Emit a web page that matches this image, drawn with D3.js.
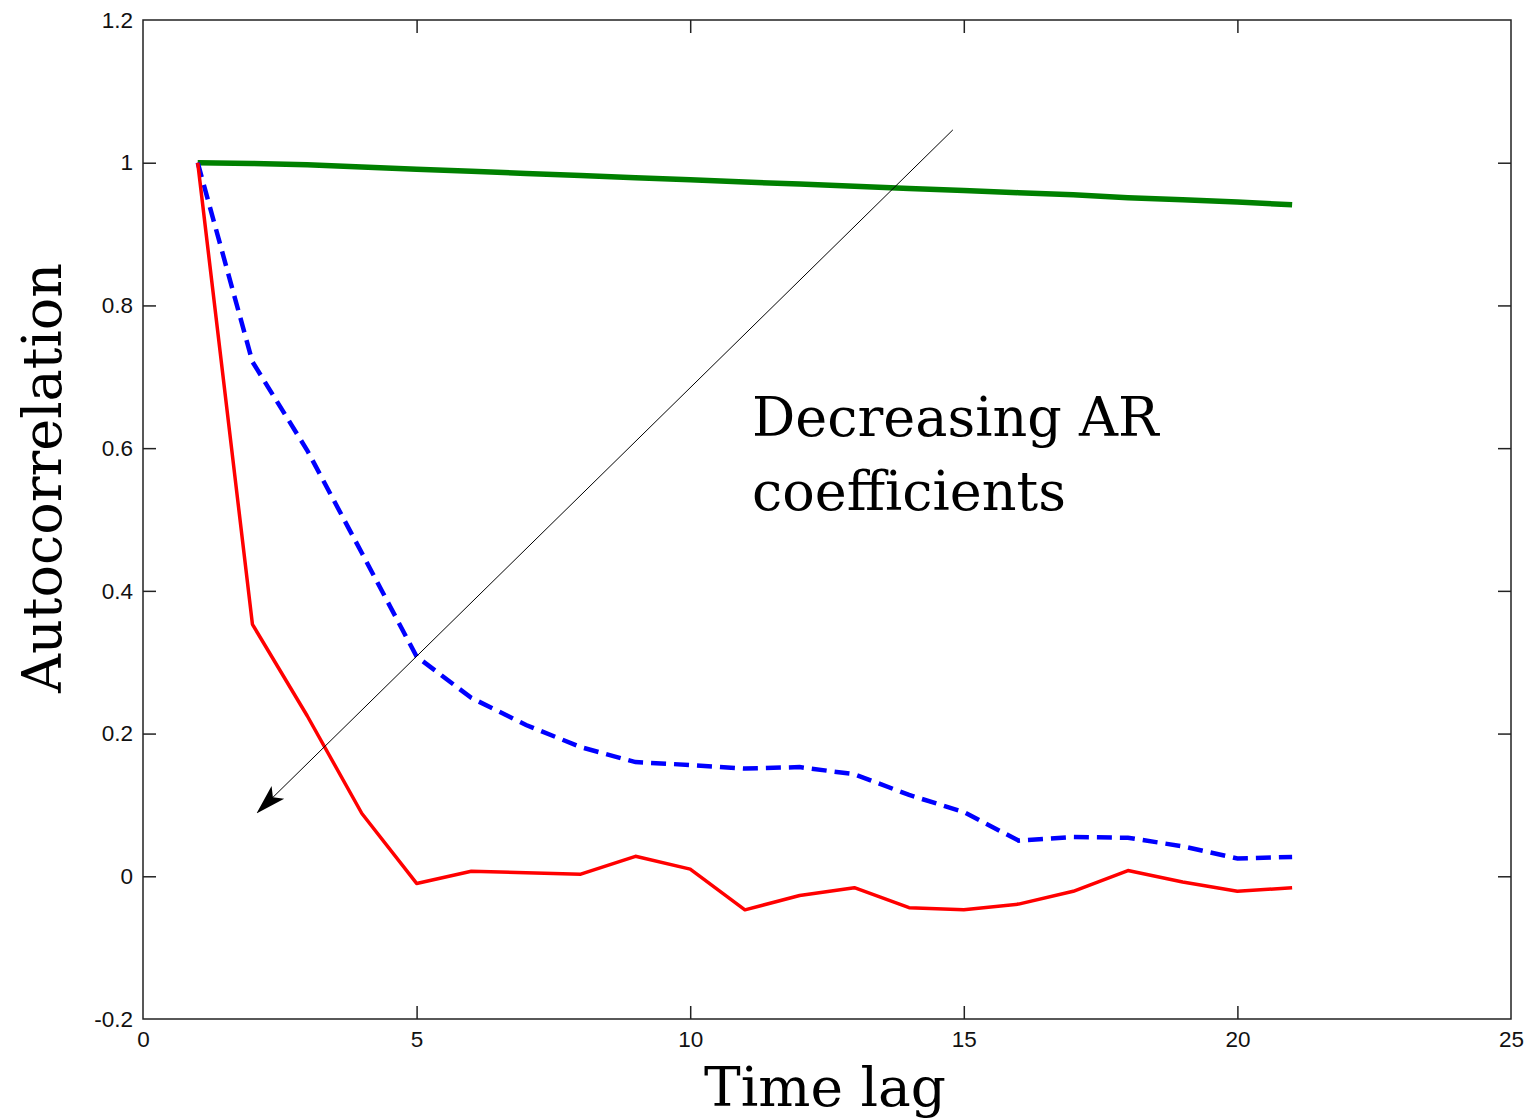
<!DOCTYPE html>
<html><head><meta charset="utf-8">
<script src="https://cdn.jsdelivr.net/npm/d3@7"></script>
<style>body{margin:0;background:#fff;} svg{display:block;}</style>
</head><body>
<svg id="chart" width="1535" height="1120"></svg>
<script>
const lags = [1,2,3,4,5,6,7,8,9,10,11,12,13,14,15,16,17,18,19,20,21];
const greenSeries = [1.0,0.999,0.997,0.994,0.991,0.988,0.985,0.982,0.979,0.976,0.973,0.970,0.967,0.964,0.961,0.958,0.955,0.951,0.948,0.945,0.941];
const blueSeries = [1.0,0.721,0.597,0.453,0.308,0.250,0.212,0.181,0.160,0.156,0.151,0.153,0.143,0.114,0.090,0.050,0.055,0.054,0.042,0.025,0.027];
const redSeries = [1.0,0.353,0.225,0.088,-0.010,0.007,0.005,0.003,0.028,0.010,-0.047,-0.027,-0.016,-0.044,-0.047,-0.039,-0.021,0.008,-0.008,-0.021,-0.016];
const xTicks = [0,5,10,15,20,25];
const yTicks = [-0.2,0,0.2,0.4,0.6,0.8,1,1.2];
const arrowFrom = [14.8,1.046];
const arrowTo = [2.1,0.09];
const annotationLines = ["Decreasing AR","coefficients"];

const svg = d3.select("#chart");
const L=143, R=1511, T=20, B=1019;
const x = d3.scaleLinear().domain([0,25]).range([L,R]);
const y = d3.scaleLinear().domain([-0.2,1.2]).range([B,T]);
const fmt = d => String(+d.toFixed(1));

svg.append("rect").attr("x",L).attr("y",T).attr("width",R-L).attr("height",B-T)
  .attr("fill","none").attr("stroke","#222").attr("stroke-width",1.5);

const tickFont = "Liberation Sans, Arial, sans-serif";
const gb = svg.append("g").attr("transform",`translate(0,${B})`)
  .call(d3.axisBottom(x).tickValues(xTicks).tickSizeInner(-13).tickSizeOuter(0).tickPadding(9).tickFormat(d=>d));
const gt = svg.append("g").attr("transform",`translate(0,${T})`)
  .call(d3.axisTop(x).tickValues(xTicks).tickSizeInner(-13).tickSizeOuter(0).tickFormat(""));
const gl = svg.append("g").attr("transform",`translate(${L},0)`)
  .call(d3.axisLeft(y).tickValues(yTicks).tickSizeInner(-13).tickSizeOuter(0).tickPadding(10).tickFormat(fmt));
const gr = svg.append("g").attr("transform",`translate(${R},0)`)
  .call(d3.axisRight(y).tickValues(yTicks).tickSizeInner(-13).tickSizeOuter(0).tickFormat(""));
[gb,gt,gl,gr].forEach(g=>{
  g.select(".domain").remove();
  g.selectAll("line").attr("stroke","#222").attr("stroke-width",1.5);
  g.selectAll("text").attr("font-family",tickFont).attr("font-size",22.5).attr("fill","#111");
});
const isEdge = d => Math.abs(d-0)<1e-9||Math.abs(d-25)<1e-9;
const isEdgeY = d => Math.abs(d-1.2)<1e-9||Math.abs(d+0.2)<1e-9;
gb.selectAll(".tick").filter(isEdge).selectAll("line").remove();
gt.selectAll(".tick").filter(isEdge).selectAll("line").remove();
gl.selectAll(".tick").filter(isEdgeY).selectAll("line").remove();
gr.selectAll(".tick").filter(isEdgeY).selectAll("line").remove();
gb.selectAll("text").attr("dy","0.85em");

const line = d3.line().x((d,i)=>x(lags[i])).y(d=>y(d));
svg.append("path").datum(greenSeries).attr("d",line).attr("fill","none")
  .attr("stroke","#008000").attr("stroke-width",5.5).attr("stroke-linejoin","round");
svg.append("path").datum(blueSeries).attr("d",line).attr("fill","none")
  .attr("stroke","#0000ff").attr("stroke-width",4.5).attr("stroke-dasharray","15,8");
svg.append("path").datum(redSeries).attr("d",line).attr("fill","none")
  .attr("stroke","#ff0000").attr("stroke-width",3.5).attr("stroke-linejoin","round");

const defs = svg.append("defs");
defs.append("marker").attr("id","ah").attr("viewBox","0 0 30 20").attr("refX",28).attr("refY",10)
  .attr("markerWidth",30).attr("markerHeight",20).attr("markerUnits","userSpaceOnUse").attr("orient","auto")
  .append("path").attr("d","M0,1 L30,10 L0,19 L7,10 Z").attr("fill","#000");
svg.append("line").attr("x1",x(arrowFrom[0])).attr("y1",y(arrowFrom[1]))
  .attr("x2",x(arrowTo[0])).attr("y2",y(arrowTo[1]))
  .attr("stroke","#000").attr("stroke-width",1).attr("marker-end","url(#ah)");

const serif = "'DejaVu Serif', 'Liberation Serif', serif";
const ann = svg.append("text").attr("font-family",serif).attr("font-size",54).attr("fill","#000");
annotationLines.forEach((t,i)=>ann.append("tspan").attr("x",752).attr("y",436+i*74).text(t));

svg.append("text").attr("x",825).attr("y",1106).attr("text-anchor","middle")
  .attr("font-family",serif).attr("font-size",55).text("Time lag");
svg.append("text").attr("transform","translate(61,478) rotate(-90)").attr("text-anchor","middle")
  .attr("font-family",serif).attr("font-size",54).text("Autocorrelation");
</script>
</body></html>
